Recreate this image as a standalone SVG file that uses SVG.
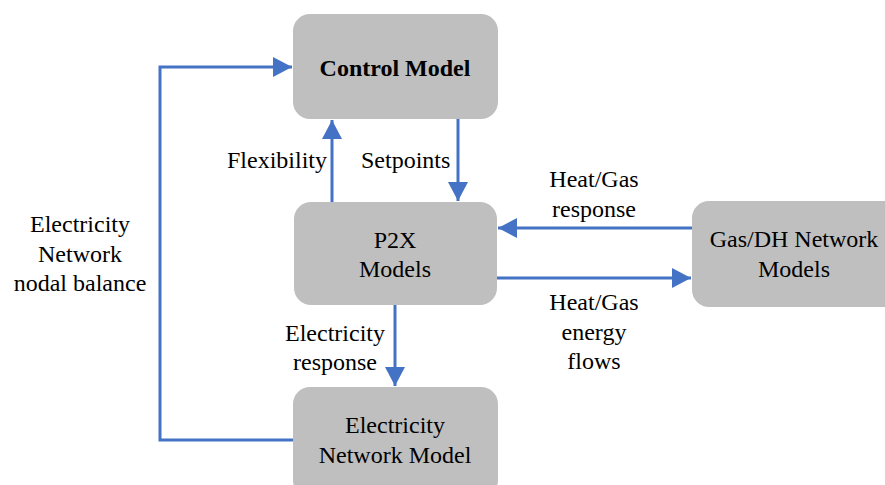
<svg xmlns="http://www.w3.org/2000/svg" width="885" height="485" viewBox="0 0 885 485">
<style>
.box{fill:#BFBFBF;stroke:none}
text{font-family:'Liberation Serif','Times New Roman','DejaVu Serif',serif;font-size:24px;fill:#000;text-anchor:middle}
.b{font-weight:bold}
.c{fill:none;stroke:#4472C4;stroke-width:3}
</style>
<defs>
<marker id="ah" markerUnits="userSpaceOnUse" markerWidth="20" markerHeight="20" refX="19" refY="10" orient="auto">
<path d="M0,0 L19,10 L0,20 z" fill="#4472C4"/>
</marker>
</defs>
<rect width="885" height="485" fill="#fff"/>
<g id="connectors">
<path class="c" d="M293,440 H160 V67 H292" marker-end="url(#ah)"/>
<path class="c" d="M332,202 V120" marker-end="url(#ah)"/>
<path class="c" d="M458,119 V201" marker-end="url(#ah)"/>
<path class="c" d="M692,228 H498" marker-end="url(#ah)"/>
<path class="c" d="M497,278 H691" marker-end="url(#ah)"/>
<path class="c" d="M395,305 V386" marker-end="url(#ah)"/>
</g>
<g id="control" font-family="Liberation Serif, serif">
<rect class="box" x="293" y="14" width="205" height="105" rx="17"/>
<text class="b" x="395" y="76">Control Model</text>
</g>
<g id="p2x" font-family="Liberation Serif, serif">
<rect class="box" x="294" y="202" width="203" height="103" rx="17"/>
<text x="395" y="248">P2X</text>
<text x="395" y="277">Models</text>
</g>
<g id="gasdh" font-family="Liberation Serif, serif">
<rect class="box" x="692" y="201" width="210" height="106" rx="17"/>
<text x="794" y="247">Gas/DH Network</text>
<text x="794" y="277">Models</text>
</g>
<g id="elecnet" font-family="Liberation Serif, serif">
<rect class="box" x="293" y="387" width="205" height="110" rx="17"/>
<text x="395" y="433">Electricity</text>
<text x="395" y="463">Network Model</text>
</g>
<g id="labels" font-family="Liberation Serif, serif">
<text x="80" y="232">Electricity</text>
<text x="80" y="262">Network</text>
<text x="80" y="291">nodal balance</text>
<text x="327" y="168" style="text-anchor:end">Flexibility</text>
<text x="361" y="168" style="text-anchor:start">Setpoints</text>
<text x="594" y="187">Heat/Gas</text>
<text x="594" y="217">response</text>
<text x="594" y="310">Heat/Gas</text>
<text x="594" y="340">energy</text>
<text x="594" y="369">flows</text>
<text x="335" y="341">Electricity</text>
<text x="335" y="370">response</text>
</g>
</svg>
